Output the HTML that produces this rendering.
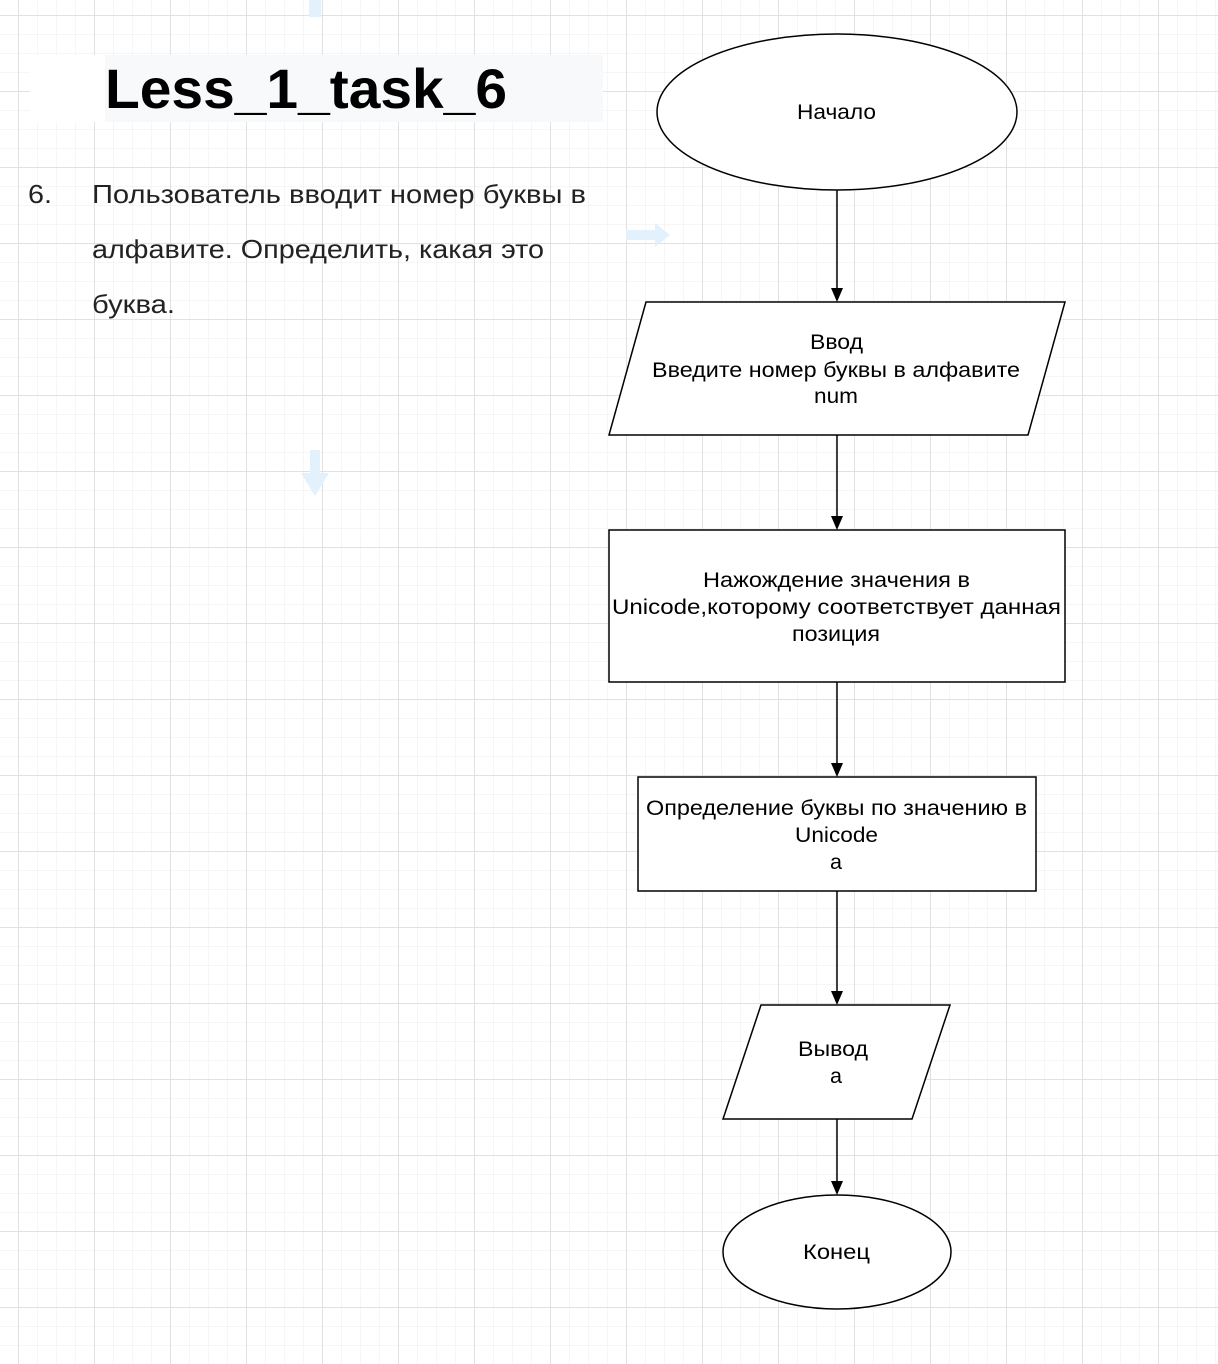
<!DOCTYPE html>
<html><head><meta charset="utf-8"><style>
html,body{margin:0;padding:0;background:#fff;}
svg{display:block;}
</style></head><body>
<svg width="1218" height="1364" xmlns="http://www.w3.org/2000/svg" font-family="Liberation Sans, sans-serif">
<defs>
<pattern id="minor" width="19" height="19" patternUnits="userSpaceOnUse" x="18" y="15">
<path d="M0 0 H19 M0 0 V19" stroke="#ececec" stroke-width="1" fill="none"/>
</pattern>
<pattern id="major" width="76" height="76" patternUnits="userSpaceOnUse" x="18.5" y="15.5">
<path d="M0 0 H76 M0 0 V76" stroke="#d6d6d6" stroke-width="1" fill="none"/>
</pattern>
</defs>
<rect width="1218" height="1364" fill="#fff"/>
<rect width="1218" height="1364" fill="url(#minor)"/>
<rect width="1218" height="1364" fill="url(#major)"/>

<rect x="309" y="0" width="12" height="17" fill="#e3f1fc"/>
<path d="M626 230 H655 V223 L670 235 L655 247 V240 H626 Z" fill="#e3f1fc"/>
<path d="M310 450 H320 V473 H329 L315 496 L301 473 H310 Z" fill="#e3f1fc"/>

<rect x="30" y="55" width="75" height="67" fill="#fff"/>
<rect x="105" y="55" width="498" height="67" fill="#f8f9fa"/>
<text x="105" y="108" font-size="56" font-weight="bold" fill="#000" textLength="402" lengthAdjust="spacingAndGlyphs">Less_1_task_6</text>

<g font-size="26" fill="#222">
<text x="28" y="203" textLength="24" lengthAdjust="spacingAndGlyphs">6.</text>
<text x="92" y="203" textLength="494" lengthAdjust="spacingAndGlyphs">Пользователь вводит номер буквы в</text>
<text x="92" y="258" textLength="452" lengthAdjust="spacingAndGlyphs">алфавите. Определить, какая это</text>
<text x="92" y="313" textLength="83" lengthAdjust="spacingAndGlyphs">буква.</text>
</g>

<g stroke="#000" stroke-width="1.5" fill="#fff">
<ellipse cx="837" cy="112" rx="180" ry="78"/>
<polygon points="646,302 1065,302 1028,435 609,435"/>
<rect x="609" y="530" width="456" height="152"/>
<rect x="638" y="777" width="398" height="114"/>
<polygon points="761,1005 950,1005 912,1119 723,1119"/>
<ellipse cx="837" cy="1252" rx="114" ry="57"/>
</g>

<g stroke="#000" stroke-width="1.5">
<line x1="837" y1="190" x2="837" y2="290"/>
<line x1="837" y1="435" x2="837" y2="518"/>
<line x1="837" y1="682" x2="837" y2="765"/>
<line x1="837" y1="891" x2="837" y2="993"/>
<line x1="837" y1="1119" x2="837" y2="1183"/>
</g>
<g fill="#000">
<polygon points="831,288 843,288 837,302"/>
<polygon points="831,516 843,516 837,530"/>
<polygon points="831,763 843,763 837,777"/>
<polygon points="831,991 843,991 837,1005"/>
<polygon points="831,1181 843,1181 837,1195"/>
</g>

<g font-size="21" fill="#000" lengthAdjust="spacingAndGlyphs">
<text x="797" y="119" textLength="79" lengthAdjust="spacingAndGlyphs">Начало</text>
<text x="810" y="349" textLength="53" lengthAdjust="spacingAndGlyphs">Ввод</text>
<text x="652" y="377" textLength="368" lengthAdjust="spacingAndGlyphs">Введите номер буквы в алфавите</text>
<text x="814" y="403" textLength="44" lengthAdjust="spacingAndGlyphs">num</text>
<text x="703" y="587" textLength="267" lengthAdjust="spacingAndGlyphs">Нажождение значения в</text>
<text x="612" y="614" textLength="449" lengthAdjust="spacingAndGlyphs">Unicode,которому соответствует данная</text>
<text x="792" y="641" textLength="88" lengthAdjust="spacingAndGlyphs">позиция</text>
<text x="646" y="815" textLength="381" lengthAdjust="spacingAndGlyphs">Определение буквы по значению в</text>
<text x="795" y="842" textLength="83" lengthAdjust="spacingAndGlyphs">Unicode</text>
<text x="830" y="869" textLength="12" lengthAdjust="spacingAndGlyphs">а</text>
<text x="798" y="1056" textLength="70" lengthAdjust="spacingAndGlyphs">Вывод</text>
<text x="830" y="1083" textLength="12" lengthAdjust="spacingAndGlyphs">а</text>
<text x="803" y="1259" textLength="67" lengthAdjust="spacingAndGlyphs">Конец</text>
</g>
</svg>
</body></html>
